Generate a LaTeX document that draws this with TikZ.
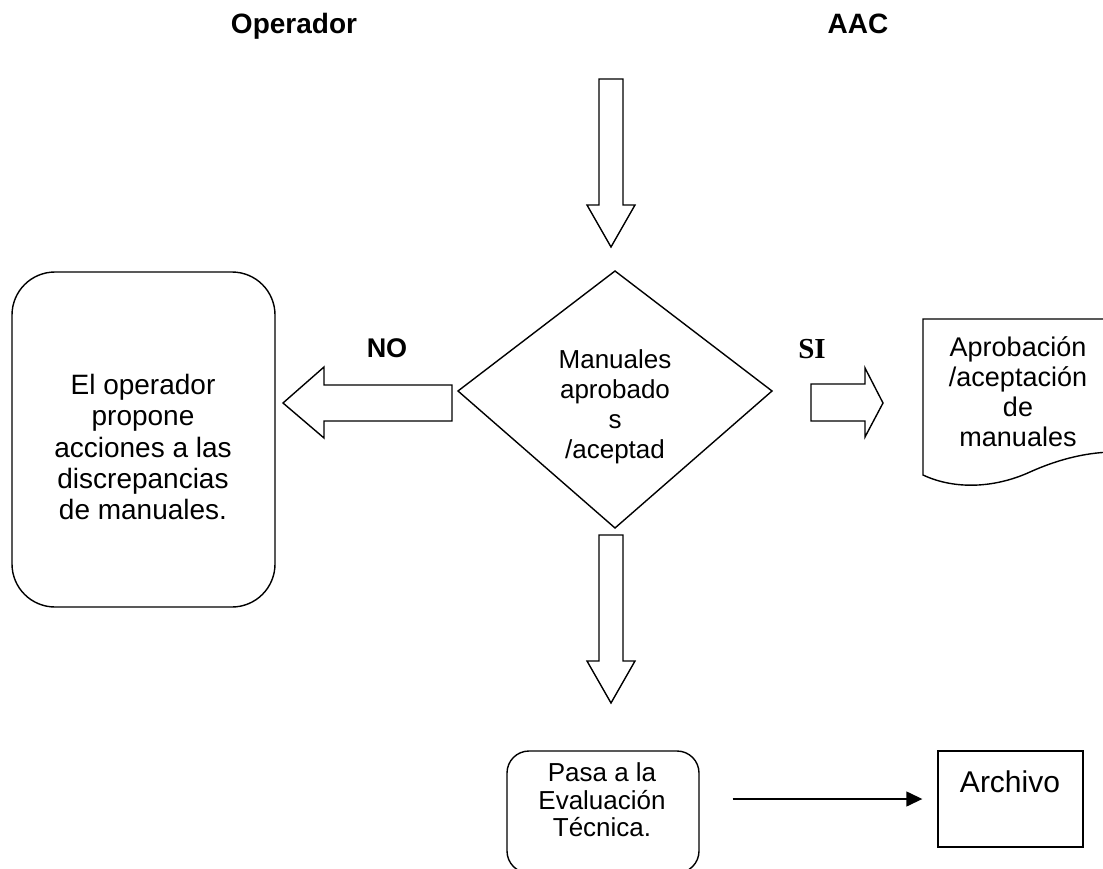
\documentclass[tikz,border=0pt]{standalone}
\usepackage{fontspec}
\setmainfont{Liberation Sans}
\newfontfamily\serifface{Liberation Serif}
\usetikzlibrary{arrows.meta}
\begin{document}
\begin{tikzpicture}[x=1pt,y=-1pt,
  line join=miter,
  blk/.style={draw=black, fill=white, line width=1.4pt},
  rbox/.style={draw, line width=1.4pt, rounded corners=#1, inner sep=0pt},
  sqbox/.style={draw, line width=1.4pt, inner sep=0pt},
  txt/.style={align=center, inner sep=0pt},
  head/.style={inner sep=0pt, anchor=base, font={\fontsize{28}{32}\selectfont\bfseries}},
]
\useasboundingbox (0,0) rectangle (1103,869);
\clip (0,0) rectangle (1103,869);

% headings
\node[head] (hop) at (294,34) {Operador};
\node[head] (haac) at (858,34) {AAC};

% top block arrow
\draw[blk] (599,79) -- (623,79) -- (623,205) -- (635,205) -- (611,247) -- (587,205) -- (599,205) -- cycle;

% decision diamond
\draw[blk] (615,271) -- (772,391) -- (615,528) -- (458,391) -- cycle;
\node[txt, font={\fontsize{26}{30}\selectfont}] (dec) at (615,407) {Manuales\\aprobado\\s\\/aceptad};

% NO arrow
\draw[blk] (452,385) -- (452,421) -- (324,421) -- (324,438) -- (283,403) -- (324,367) -- (324,385) -- cycle;
\node[inner sep=0pt, anchor=base, font={\fontsize{27}{30}\selectfont\bfseries}] (no) at (387,357) {NO};

% SI arrow
\draw[blk] (811,384) -- (865,384) -- (865,368) -- (883,403) -- (865,437) -- (865,421) -- (811,421) -- cycle;
\node[inner sep=0pt, anchor=base, font={\serifface\bfseries\fontsize{29}{32}\selectfont}] (si) at (812,358) {SI};

% operator box
\node[rbox=43pt, minimum width=263pt, minimum height=335pt] (opbox) at (143.5,439.5) {};
\node[txt, font={\fontsize{28}{31.3}\selectfont}] (optxt) at (143,447) {El operador\\propone\\acciones a las\\discrepancias\\de manuales.};

% document shape
\draw[line width=1.4pt, fill=white] (1115,452) -- (1115,319) -- (923,319) -- (923,475)
  .. controls (955,490) and (995,488) .. (1030,472)
  .. controls (1061,458) and (1090,452) .. (1115,452);
\node[txt, font={\fontsize{27}{30}\selectfont}] (doctxt) at (1018,392) {Aprobación\\/aceptación\\de\\manuales};

% bottom block arrow
\draw[blk] (599,535) -- (623,535) -- (623,661) -- (635,661) -- (611,703) -- (587,661) -- (599,661) -- cycle;

% Pasa box
\node[rbox=22pt, minimum width=192pt, minimum height=122pt] (pasabox) at (603,812) {};
\node[txt, font={\fontsize{26}{27.5}\selectfont}] (pasatxt) at (602,800) {Pasa a la\\Evaluación\\Técnica.};

% Archivo box
\node[sqbox, minimum width=145pt, minimum height=96pt] (arch) at (1010.5,799) {};
\node[inner sep=0pt, anchor=base, font={\fontsize{30}{32}\selectfont}] (archtxt) at (1010,792) {Archivo};

% connector
\draw[line width=1.4pt, -{Triangle[length=16pt,width=15pt]}, shorten <=33pt, shorten >=15pt]
  (pasabox.east |- arch.west) -- (arch.west);
\end{tikzpicture}
\end{document}
